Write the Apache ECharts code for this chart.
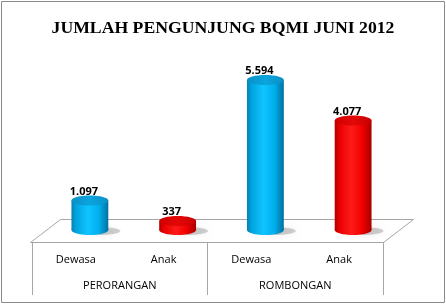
<!DOCTYPE html>
<html>
<head>
<meta charset="utf-8">
<script src="https://cdn.jsdelivr.net/npm/echarts@6/dist/echarts.min.js"></script>
<style>
html,body{margin:0;padding:0;background:#fff;}
#c{width:446px;height:305px;}
</style>
</head>
<body>
<div id="c"></div>
<script>
// ---- data ----
const titleText = 'JUMLAH PENGUNJUNG BQMI JUNI 2012';
const categories = ['Dewasa', 'Anak', 'Dewasa', 'Anak'];
const groups = ['PERORANGAN', 'ROMBONGAN'];
const dewasa = [1097, 5594];
const anak = [337, 4077];

function fmt(v) {
  return String(v).replace(/\B(?=(\d{3})+(?!\d))/g, '.');
}

const chart = echarts.init(document.getElementById('c'), null, {renderer: 'canvas'});

const depthX = 14, depthY = -12;

function makeRender(pal) {
  return function (params, api) {
    const idx = api.value(0);
    const val = api.value(1);
    const top = api.coord([idx, val]);
    const base = api.coord([idx, 0]);
    const band = api.size([1, 0])[0];
    const rx = band * 0.21;
    const ry = 5;
    const cx = top[0] + depthX;
    const ty = top[1] + depthY;
    const by = base[1] + depthY;
    const bodyGrad = {
      type: 'linear', x: 0, y: 0, x2: 1, y2: 0,
      colorStops: pal.body
    };
    const topGrad = {
      type: 'linear', x: 0, y: 0, x2: 1, y2: 0,
      colorStops: pal.top
    };
    return {
      type: 'group',
      children: [
        {
          type: 'ellipse',
          shape: {cx: cx + 9, cy: by + 1, rx: rx + 3, ry: ry - 1},
          style: {fill: 'rgba(0,0,0,0.18)', shadowBlur: 6, shadowColor: 'rgba(0,0,0,0.35)'}
        },
        {
          type: 'ellipse',
          shape: {cx: cx, cy: by, rx: rx, ry: ry},
          style: {fill: bodyGrad}
        },
        {
          type: 'rect',
          shape: {x: cx - rx, y: ty, width: rx * 2, height: Math.max(0, by - ty)},
          style: {fill: bodyGrad}
        },
        {
          type: 'ellipse',
          shape: {cx: cx, cy: ty, rx: rx, ry: ry},
          style: {fill: topGrad}
        },
        {
          type: 'text',
          style: {
            text: fmt(val), x: cx - 6, y: ty - 9,
            fill: '#000', font: 'bold 11px "Open Sans"',
            align: 'center', verticalAlign: 'middle'
          }
        }
      ]
    };
  };
}

const bluePal = {
  body: [
    {offset: 0, color: '#0A7FB0'},
    {offset: 0.12, color: '#00A3DE'},
    {offset: 0.45, color: '#10C4FF'},
    {offset: 0.75, color: '#00AEEB'},
    {offset: 1, color: '#0070A0'}
  ],
  top: [
    {offset: 0, color: '#0A90C6'},
    {offset: 0.5, color: '#0AA4DE'},
    {offset: 1, color: '#0A90C6'}
  ]
};
const redPal = {
  body: [
    {offset: 0, color: '#B00000'},
    {offset: 0.12, color: '#E80000'},
    {offset: 0.45, color: '#FF1A1A'},
    {offset: 0.75, color: '#F00000'},
    {offset: 1, color: '#A80000'}
  ],
  top: [
    {offset: 0, color: '#D00000'},
    {offset: 0.5, color: '#E40808'},
    {offset: 1, color: '#C80000'}
  ]
};

const floorColor = '#A6A6A6';

chart.setOption({
  animation: false,
  title: {
    text: titleText,
    left: 'center',
    top: 13,
    textStyle: {
      fontFamily: '"Liberation Serif", serif',
      fontWeight: 'bold',
      fontSize: 17.7,
      lineHeight: 20,
      color: '#000',
      textShadowColor: 'rgba(0,0,0,0.18)',
      textShadowBlur: 0,
      textShadowOffsetX: 1,
      textShadowOffsetY: 1
    }
  },
  graphic: [
    {
      type: 'rect', z: 0, silent: true,
      shape: {x: 1.5, y: 1.5, width: 443, height: 301},
      style: {fill: 'none', stroke: '#8A8A8A', lineWidth: 1}
    },
    {
      type: 'polygon', z: 0, silent: true,
      shape: {points: [[30.5, 242.5], [60.5, 219.5], [413.5, 219.5], [383.5, 242.5]]},
      style: {fill: '#fff', stroke: floorColor, lineWidth: 1}
    }
  ],
  grid: {left: 32, right: 63, top: 81, bottom: 63},
  xAxis: [
    {
      type: 'category', data: categories, position: 'bottom',
      axisLine: {show: false}, axisTick: {show: false},
      axisLabel: {margin: 11, fontFamily: '"Open Sans"', fontSize: 11, color: '#000', lineHeight: 14, interval: 0}
    },
    {
      type: 'category', data: groups, position: 'bottom',
      axisLine: {show: true, lineStyle: {color: floorColor, width: 1}},
      axisTick: {show: true, length: 53, interval: 0, lineStyle: {color: floorColor, width: 1}},
      axisLabel: {margin: 37, fontFamily: '"Open Sans"', fontSize: 11, color: '#000', lineHeight: 14, interval: 0}
    }
  ],
  yAxis: {type: 'value', min: 0, max: 6000, show: false},
  series: [
    {
      type: 'custom', name: 'Dewasa', xAxisIndex: 0,
      renderItem: makeRender(bluePal),
      encode: {x: 0, y: 1},
      data: dewasa.map((v, i) => [i * 2, v]),
      z: 3
    },
    {
      type: 'custom', name: 'Anak', xAxisIndex: 0,
      renderItem: makeRender(redPal),
      encode: {x: 0, y: 1},
      data: anak.map((v, i) => [i * 2 + 1, v]),
      z: 3
    }
  ]
});
</script>
</body>
</html>
